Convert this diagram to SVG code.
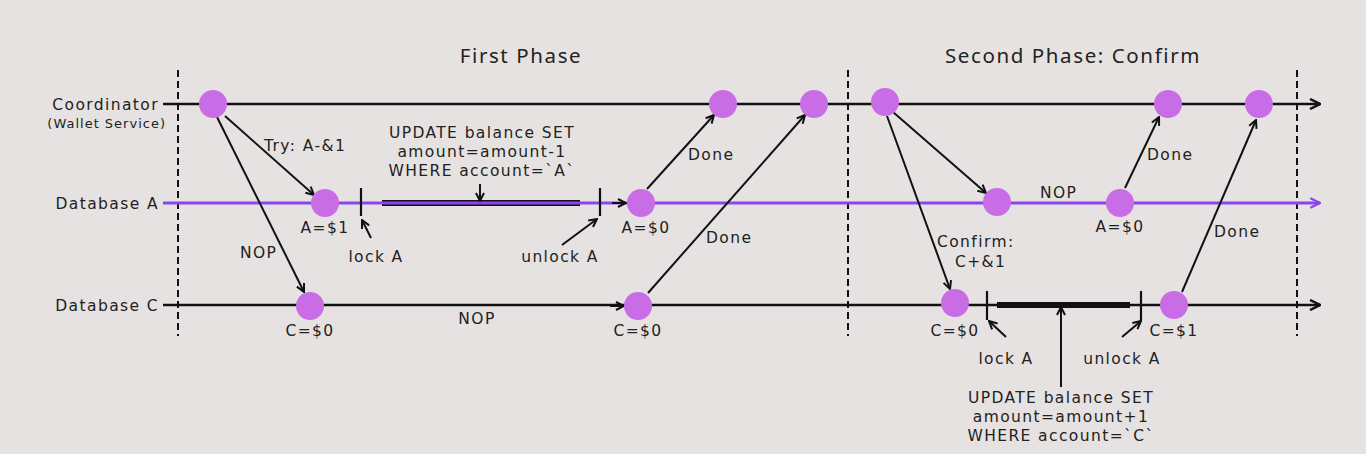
<svg xmlns="http://www.w3.org/2000/svg" width="1366" height="454" viewBox="0 0 1366 454">
<style>
text{font-family:"DejaVu Sans","Noto Sans",sans-serif;fill:#222;letter-spacing:1.4px}
.l{font-size:15.5px}
.s{font-size:13px;letter-spacing:1px}
.t{font-family:"Noto Sans","DejaVu Sans",sans-serif;font-size:20.5px;letter-spacing:1.6px}
.m{text-anchor:middle}
.e{text-anchor:end}
.ln{stroke:#111;stroke-width:2.5;fill:none}
.pl{stroke:#8b45ef;stroke-width:3;fill:none}
.ar{stroke:#111;stroke-width:2;fill:none;marker-end:url(#ah)}
.dash{stroke:#111;stroke-width:2;stroke-dasharray:7,4;fill:none}
.n{fill:#c96de6}
.tick{stroke:#111;stroke-width:2.2}
</style>
<defs>
<marker id="ah" viewBox="0 0 10 10" refX="9" refY="5" markerWidth="5" markerHeight="5" orient="auto" markerUnits="strokeWidth">
<path d="M1,1 L9,5 L1,9" fill="none" stroke="#111" stroke-width="2"/>
</marker>
<marker id="ahp" viewBox="0 0 10 10" refX="9" refY="5" markerWidth="4" markerHeight="4" orient="auto" markerUnits="strokeWidth">
<path d="M1,1 L9,5 L1,9" fill="none" stroke="#8b45ef" stroke-width="2"/>
</marker>
</defs>
<rect width="1366" height="454" fill="#e6e2e1"/>
<text class="t m" x="521" y="63">First Phase</text>
<text class="t m" x="1073" y="63">Second Phase: Confirm</text>
<g id="dividers">
<line class="dash" x1="178" y1="70" x2="178" y2="336"/>
<line class="dash" x1="848" y1="70" x2="848" y2="336"/>
<line class="dash" x1="1297" y1="70" x2="1297" y2="336"/>
</g>
<g id="lanes">
<text class="l e" x="159" y="110">Coordinator</text>
<text class="s e" x="166" y="128">(Wallet Service)</text>
<text class="l e" x="159" y="209">Database A</text>
<text class="l e" x="159" y="311">Database C</text>
<line class="ln" x1="163" y1="104" x2="1320" y2="104" marker-end="url(#ah)"/>
<line class="ln" x1="163" y1="305" x2="1320" y2="305" marker-end="url(#ah)"/>
<line x1="382" y1="203" x2="580" y2="203" stroke="#111" stroke-width="6"/>
<line class="pl" x1="163" y1="203" x2="1320" y2="203" marker-end="url(#ahp)"/>
<line x1="997" y1="305" x2="1130" y2="305" stroke="#111" stroke-width="6"/>
</g>
<g id="connectors">
<line class="ar" x1="225" y1="116" x2="314" y2="195"/>
<line class="ar" x1="217" y1="117" x2="304" y2="292"/>
<line class="ar" x1="647" y1="189" x2="714" y2="115"/>
<line class="ar" x1="648" y1="293" x2="805" y2="115"/>
<line class="ar" x1="893" y1="112" x2="986" y2="193"/>
<line class="ar" x1="887" y1="116" x2="950" y2="289"/>
<line class="ar" x1="1125" y1="188" x2="1159" y2="117"/>
<line class="ar" x1="1182" y1="292" x2="1256" y2="120"/>
<line class="ar" x1="612" y1="203" x2="626" y2="203"/>
<line class="ar" x1="610" y1="306" x2="624" y2="306"/>
<line class="ar" x1="480" y1="184" x2="480" y2="201"/>
<line class="ar" x1="371" y1="238" x2="362" y2="220"/>
<line class="ar" x1="562" y1="245" x2="597" y2="219"/>
<line class="ar" x1="1006" y1="337" x2="989" y2="321"/>
<line class="ar" x1="1122" y1="337" x2="1141" y2="321"/>
<line class="ar" x1="1061" y1="387" x2="1061" y2="307"/>
<line class="tick" x1="361" y1="188" x2="361" y2="216"/>
<line class="tick" x1="600" y1="188" x2="600" y2="216"/>
<line class="tick" x1="987" y1="291" x2="987" y2="320"/>
<line class="tick" x1="1141" y1="291" x2="1141" y2="320"/>
</g>
<g id="n1"><circle class="n" cx="213" cy="104" r="14"/></g>
<g id="n2"><circle class="n" cx="723" cy="104" r="14"/></g>
<g id="n3"><circle class="n" cx="814" cy="104" r="14"/></g>
<g id="n4"><circle class="n" cx="885" cy="102" r="14"/></g>
<g id="n5"><circle class="n" cx="1168" cy="104" r="14"/></g>
<g id="n6"><circle class="n" cx="1259" cy="104" r="14"/></g>
<g id="a1"><circle class="n" cx="325" cy="203" r="14"/><text class="l m" x="325" y="233">A=$1</text></g>
<g id="a2"><circle class="n" cx="641" cy="203" r="14"/><text class="l m" x="646" y="233">A=$0</text></g>
<g id="a3"><circle class="n" cx="997" cy="202" r="14"/></g>
<g id="a4"><circle class="n" cx="1120" cy="203" r="14"/><text class="l m" x="1120" y="232">A=$0</text></g>
<g id="c1"><circle class="n" cx="310" cy="306" r="14"/><text class="l m" x="310" y="336">C=$0</text></g>
<g id="c2"><circle class="n" cx="638" cy="306" r="14"/><text class="l m" x="638" y="336">C=$0</text></g>
<g id="c3"><circle class="n" cx="955" cy="303" r="14"/><text class="l m" x="955" y="336">C=$0</text></g>
<g id="c4"><circle class="n" cx="1174" cy="305" r="14"/><text class="l m" x="1174" y="336">C=$1</text></g>
<g id="labels">
<text class="l" x="264" y="151">Try: A-&amp;1</text>
<text class="l" x="240" y="258">NOP</text>
<text class="l m" x="482" y="138">UPDATE balance SET</text>
<text class="l m" x="482" y="157">amount=amount-1</text>
<text class="l m" x="482" y="176">WHERE account=`A`</text>
<text class="l m" x="376" y="262">lock A</text>
<text class="l m" x="560" y="262">unlock A</text>
<text class="l m" x="477" y="324">NOP</text>
<text class="l" x="688" y="160">Done</text>
<text class="l" x="706" y="243">Done</text>
<text class="l" x="1040" y="198">NOP</text>
<text class="l" x="1147" y="160">Done</text>
<text class="l" x="1214" y="237">Done</text>
<text class="l" x="937" y="247">Confirm:</text>
<text class="l" x="955" y="267">C+&amp;1</text>
<text class="l m" x="1006" y="364">lock A</text>
<text class="l m" x="1122" y="364">unlock A</text>
<text class="l m" x="1061" y="403">UPDATE balance SET</text>
<text class="l m" x="1061" y="422">amount=amount+1</text>
<text class="l m" x="1061" y="441">WHERE account=`C`</text>
</g>
</svg>
